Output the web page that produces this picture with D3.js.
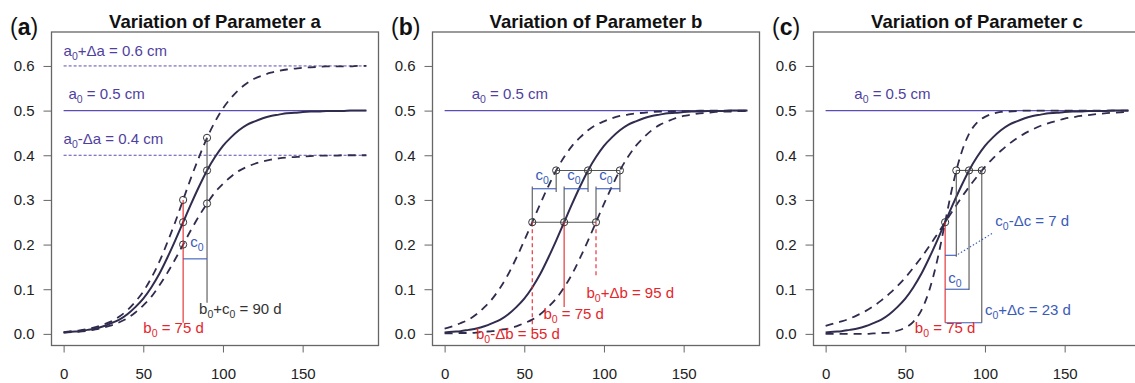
<!DOCTYPE html>
<html>
<head>
<meta charset="utf-8">
<script src="https://cdn.jsdelivr.net/npm/d3@7"></script>
<style>
  body { margin: 0; background: #fff; }
  text { font-family: "Liberation Sans", Arial, sans-serif; }
</style>
</head>
<body>
<script>
const days = [0,5,10,15,20,25,30,35,40,45,50,55,60,65,70,75,80,85,90,95,
  100,105,110,115,120,125,130,135,140,145,150,155,160,165,170,175,180,185,190];

// growth curves (cm)
const base = [0.003,0.005,0.006,0.009,0.012,0.017,0.024,0.032,0.044,0.060,0.079,0.104,0.134,0.170,0.209,0.250,0.291,0.330,0.366,0.396,
  0.421,0.440,0.456,0.468,0.476,0.483,0.488,0.491,0.494,0.495,0.497,0.498,0.498,0.499,0.499,0.499,0.500,0.500,0.500];
const aHigh = [0.004,0.006,0.008,0.011,0.015,0.021,0.028,0.039,0.053,0.072,0.095,0.125,0.161,0.204,0.250,0.300,0.350,0.396,0.439,0.475,
  0.505,0.528,0.547,0.561,0.572,0.579,0.585,0.589,0.592,0.594,0.596,0.597,0.598,0.599,0.599,0.599,0.599,0.600,0.600];
const aLow = [0.003,0.004,0.005,0.007,0.010,0.014,0.019,0.026,0.035,0.048,0.064,0.083,0.108,0.136,0.167,0.200,0.233,0.264,0.292,0.317,
  0.336,0.352,0.365,0.374,0.381,0.386,0.390,0.393,0.395,0.396,0.397,0.398,0.399,0.399,0.399,0.400,0.400,0.400,0.400];
const bEarly = [0.012,0.017,0.024,0.032,0.044,0.060,0.079,0.104,0.134,0.170,0.209,0.250,0.291,0.330,0.366,0.396,0.421,0.440,0.456,0.468,
  0.476,0.483,0.488,0.491,0.494,0.495,0.497,0.498,0.498,0.499,0.499,0.499,0.500,0.500,0.500,0.500,0.500,0.500,0.500];
const bLate = [0.001,0.001,0.002,0.002,0.003,0.005,0.006,0.009,0.012,0.017,0.024,0.032,0.044,0.060,0.079,0.104,0.134,0.170,0.209,0.250,
  0.291,0.330,0.366,0.396,0.421,0.440,0.456,0.468,0.476,0.483,0.488,0.491,0.494,0.495,0.497,0.498,0.498,0.499,0.499];
const cSteep = [0.000,0.000,0.000,0.000,0.000,0.000,0.001,0.002,0.003,0.007,0.014,0.027,0.052,0.097,0.164,0.250,0.336,0.403,0.448,0.473,
  0.486,0.493,0.497,0.498,0.499,0.500,0.500,0.500,0.500,0.500,0.500,0.500,0.500,0.500,0.500,0.500,0.500,0.500,0.500];
const cFlat = [0.018,0.023,0.028,0.034,0.042,0.051,0.062,0.075,0.090,0.107,0.126,0.148,0.171,0.196,0.223,0.250,0.277,0.304,0.329,0.352,
  0.374,0.393,0.410,0.425,0.438,0.449,0.458,0.466,0.472,0.477,0.482,0.485,0.488,0.490,0.492,0.494,0.495,0.496,0.497];

const panelLetters = ["a", "b", "c"];
const panelTitles = ["Variation of Parameter a", "Variation of Parameter b", "Variation of Parameter c"];
const yTicks = [0, 0.1, 0.2, 0.3, 0.4, 0.5, 0.6];
const xTicks = [0, 50, 100, 150];

// which curves go in which panel
const panelCurves = [
  [{v: aHigh, dash: true}, {v: aLow, dash: true}, {v: base}],
  [{v: bEarly, dash: true}, {v: bLate, dash: true}, {v: base}],
  [{v: cSteep, dash: true}, {v: cFlat, dash: true}, {v: base}]
];

// asymptote levels
const panelLevels = [
  [{y: 0.6, dash: true}, {y: 0.5}, {y: 0.4, dash: true}],
  [{y: 0.5}],
  [{y: 0.5}]
];

// reference points on the curves
const panelPoints = [
  [[75, 0.2], [75, 0.25], [75, 0.3], [90, 0.292], [90, 0.366], [90, 0.439]],
  [[55, 0.25], [75, 0.25], [95, 0.25], [70, 0.366], [90, 0.366], [110, 0.366]],
  [[75, 0.25], [82, 0.366], [90, 0.366], [98, 0.366]]
];

const RED = "#e3262b", BLUE = "#3a5bb8", GREY = "#555", PURPLE = "#4f3fa0";

// guide segments [x1, y1, x2, y2, colour, dash]
const panelSegs = [
  [[75, 0.3, 75, 0.025, RED], [90, 0.439, 90, 0.07, GREY], [75, 0.168, 90, 0.168, BLUE]],
  [[55, 0.25, 95, 0.25, GREY], [70, 0.366, 110, 0.366, GREY],
   [55, 0.25, 55, 0.33, GREY], [75, 0.25, 75, 0.33, GREY], [95, 0.25, 95, 0.33, GREY],
   [70, 0.366, 70, 0.318, GREY], [90, 0.366, 90, 0.318, GREY], [110, 0.366, 110, 0.318, GREY],
   [55, 0.325, 70, 0.325, BLUE], [75, 0.325, 90, 0.325, BLUE], [95, 0.325, 110, 0.325, BLUE],
   [55, 0.25, 55, -0.012, RED, "4,3"], [75, 0.25, 75, 0.06, RED], [95, 0.25, 95, 0.125, RED, "4,3"]],
  [[82, 0.366, 98, 0.366, GREY], [75, 0.25, 75, 0.025, RED],
   [82, 0.366, 82, 0.173, GREY], [90, 0.366, 90, 0.098, GREY], [98, 0.366, 98, 0.025, GREY],
   [75, 0.176, 82, 0.176, BLUE], [75, 0.1, 90, 0.1, BLUE], [75, 0.025, 98, 0.025, BLUE],
   [83, 0.178, 105, 0.226, BLUE, "1.5,2"]]
];

// labels: [x, y(centre), parts (odd entries are subscripts), colour]
const panelLabels = [
  [[0, 0.622, ["a", "0", "+Δa = 0.6 cm"], PURPLE], [3, 0.526, ["a", "0", " = 0.5 cm"], PURPLE],
   [0, 0.425, ["a", "0", "-Δa = 0.4 cm"], PURPLE],
   [79.5, 0.195, ["c", "0"], BLUE], [85, 0.045, ["b", "0", "+c", "0", " = 90 d"], "#333"],
   [50, 0.002, ["b", "0", " = 75 d"], RED]],
  [[17, 0.526, ["a", "0", " = 0.5 cm"], PURPLE],
   [57, 0.345, ["c", "0"], BLUE], [77, 0.345, ["c", "0"], BLUE], [97, 0.345, ["c", "0"], BLUE],
   [89, 0.08, ["b", "0", "+Δb = 95 d"], RED], [62, 0.033, ["b", "0", " = 75 d"], RED],
   [19.7, -0.011, ["b", "0", "-Δb = 55 d"], RED]],
  [[18, 0.526, ["a", "0", " = 0.5 cm"], PURPLE],
   [77, 0.115, ["c", "0"], BLUE], [100, 0.043, ["c", "0", "+Δc = 23 d"], BLUE],
   [106.5, 0.242, ["c", "0", "-Δc = 7 d"], BLUE], [56, 0.002, ["b", "0", " = 75 d"], RED]]
];

const W = 1135, H = 383;
const svg = d3.select("body").append("svg").attr("width", W).attr("height", H);

const boxW = 327, plotTop = 32, plotBottom = 345.5;
const y = d3.scaleLinear().domain([-0.026, 0.676]).range([plotBottom, plotTop]);

function addLabel(g, x, yy, parts, color) {
  const t = g.append("text").attr("x", x).attr("y", yy).attr("dy", "0.35em")
    .attr("fill", color).style("font-size", "15px");
  parts.forEach((p, i) => {
    if (i % 2 === 1) {
      t.append("tspan").attr("dy", 4).style("font-size", "10.5px").text(p);
    } else {
      t.append("tspan").attr("dy", i > 0 ? -4 : 0).text(p);
    }
  });
}

panelLetters.forEach((letter, i) => {
  const left = 51.5 + 381 * i;
  const x = d3.scaleLinear().domain([-7.6, 197.6]).range([left, left + boxW]);
  const g = svg.append("g");

  // axes
  g.append("g").attr("transform", `translate(${left},0)`)
    .call(d3.axisLeft(y).tickValues(yTicks).tickFormat(d3.format(".1f")).tickSize(8).tickPadding(9))
    .call(a => a.select(".domain").remove())
    .call(a => a.selectAll("line").attr("stroke", "#666"))
    .call(a => a.selectAll("text").attr("fill", "#222").style("font-size", "15px")
      .style("font-family", "Liberation Sans, Arial, sans-serif"));
  g.append("g").attr("transform", `translate(0,${plotBottom})`)
    .call(d3.axisBottom(x).tickValues(xTicks).tickSize(7).tickPadding(16))
    .call(a => a.select(".domain").remove())
    .call(a => a.selectAll("line").attr("stroke", "#666"))
    .call(a => a.selectAll("text").attr("fill", "#222").style("font-size", "15px")
      .style("font-family", "Liberation Sans, Arial, sans-serif"));

  // asymptote lines
  panelLevels[i].forEach(l => {
    g.append("line").attr("x1", x(0)).attr("x2", x(190)).attr("y1", y(l.y)).attr("y2", y(l.y))
      .attr("stroke", "#5a4cb0").attr("stroke-width", l.dash ? 1 : 1.3)
      .attr("stroke-dasharray", l.dash ? "3,2" : null);
  });

  // curves
  const line = d3.line().x((d, j) => x(days[j])).y(d => y(d)).curve(d3.curveMonotoneX);
  panelCurves[i].forEach(c => {
    g.append("path").attr("d", line(c.v)).attr("fill", "none")
      .attr("stroke", "#302c4e").attr("stroke-width", c.dash ? 1.8 : 2)
      .attr("stroke-dasharray", c.dash ? "8,6" : null);
  });

  // guide segments
  panelSegs[i].forEach(s => {
    g.append("line").attr("x1", x(s[0])).attr("y1", y(s[1])).attr("x2", x(s[2])).attr("y2", y(s[3]))
      .attr("stroke", s[4]).attr("stroke-width", 1.1)
      .attr("stroke-dasharray", s[5] || null);
  });

  // points
  g.selectAll("circle.pt").data(panelPoints[i]).join("circle").attr("class", "pt")
    .attr("cx", d => x(d[0])).attr("cy", d => y(d[1])).attr("r", 3.6)
    .attr("fill", "none").attr("stroke", "#333").attr("stroke-width", 1);

  // labels
  panelLabels[i].forEach(l => addLabel(g, x(l[0]), y(l[1]), l[2], l[3]));

  // box
  g.append("rect").attr("x", left).attr("y", plotTop).attr("width", boxW).attr("height", plotBottom - plotTop)
    .attr("fill", "none").attr("stroke", "#666").attr("stroke-width", 1.3);

  // title and panel tag
  g.append("text").attr("x", left + boxW / 2).attr("y", 28).attr("text-anchor", "middle")
    .style("font-size", "18.5px").style("font-weight", "bold").attr("fill", "#111")
    .text(panelTitles[i]);
  const tag = g.append("text").attr("x", left - 41.5).attr("y", 35).attr("fill", "#111")
    .style("font-size", "23px");
  tag.append("tspan").text("(");
  tag.append("tspan").style("font-weight", "bold").text(letter);
  tag.append("tspan").text(")");
});
</script>
</body>
</html>
